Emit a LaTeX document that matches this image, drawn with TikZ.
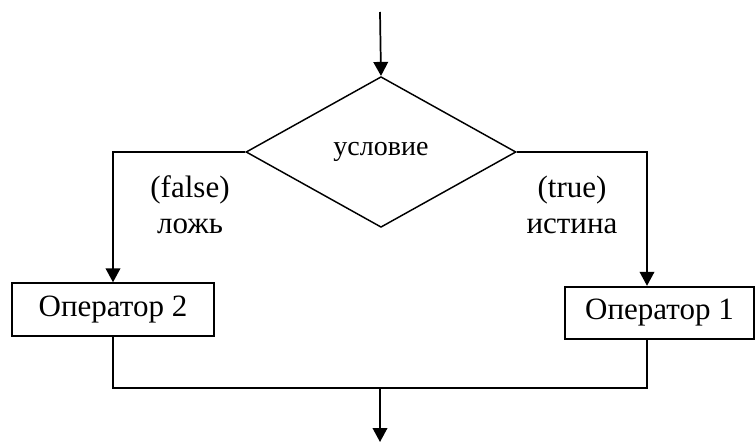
\documentclass[tikz,border=0pt]{standalone}
\usepackage{fontspec}
\setmainfont{Liberation Serif}
\usepackage{tikz}
\usetikzlibrary{shapes.geometric, arrows.meta, positioning}
\tikzset{
  decision/.style={diamond, draw=black, line width=1.1pt, inner sep=0pt,
                   minimum width=202.5pt, minimum height=113pt,
                   font=\fontsize{21}{25}\selectfont},
  opbox/.style={rectangle, draw=black, line width=1.3pt, inner sep=0pt,
                minimum height=39.5pt, font=\fontsize{23.25}{27}\selectfont},
  arrow/.style={-{Triangle[length=10.5pt, width=11pt]}, line width=1.3pt},
  line/.style={line width=1.3pt},
  lbl/.style={align=center, font=\fontsize{23.25}{27}\selectfont},
}

\begin{document}
\begin{tikzpicture}[x=0.75pt, y=-0.75pt]
  \useasboundingbox (0,0) rectangle (756,442);
  \node[decision] (cond) at (381,152) {условие};
  \node[opbox, minimum width=151.5pt] (op2) at (113,309.5) {Оператор 2};
  \node[opbox, minimum width=141.5pt] (op1) at (659.5,313) {Оператор 1};
  \node[lbl] (lblF) at (190,205) {(false)\\ложь};
  \node[lbl] (lblT) at (572,205) {(true)\\истина};
  \coordinate (in)   at (380,12);
  \coordinate (lft)  at (113,152);
  \coordinate (rgt)  at (647,152);
  \coordinate (join) at (380,388);
  \coordinate (out)  at (380,442);
  \draw[arrow] (in) -- (cond.north);
  \draw[arrow] (cond.west) -- (lft) -- (op2.north);
  \draw[arrow] (cond.east) -- (rgt) -- (rgt |- op1.north);
  \draw[line] (op2.south) -- (op2.south |- join) -- (rgt |- join) -- (rgt |- op1.south);
  \draw[arrow] (join) -- (out);
\end{tikzpicture}
\end{document}
